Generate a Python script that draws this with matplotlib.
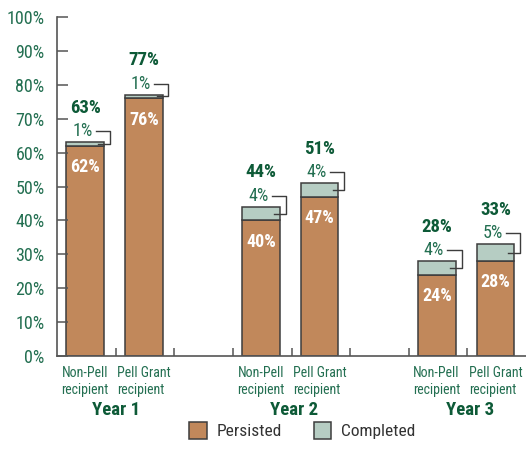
import matplotlib.pyplot as plt

plt.rcParams['font.family'] = ['Roboto Condensed', 'DejaVu Sans']

# data
groups = ["Year 1", "Year 2", "Year 3"]
bar_labels = ["Non-Pell\nrecipient", "Pell Grant\nrecipient"] * 3
persisted = [62, 76, 40, 47, 24, 28]
completed = [1, 1, 4, 4, 4, 5]
totals = [63, 77, 44, 51, 28, 33]

brown = "#C1885B"
sage = "#B6CDC3"
edge = "#3d3d3d"
green = "#236F51"
dark_green = "#0D5A37"

x = [0.48, 1.48, 3.48, 4.48, 6.48, 7.48]
w = 0.64

fig = plt.figure(figsize=(5.26, 4.62), dpi=100)
ax = fig.add_axes([0.1084, 0.2294, 0.8916, 0.7338])

ax.bar(x, persisted, width=w, color=brown, edgecolor=edge, linewidth=1.1, label="Persisted")
ax.bar(x, completed, width=w, bottom=persisted, color=sage, edgecolor=edge, linewidth=1.1, label="Completed")

for xi, p, c, t in zip(x, persisted, completed, totals):
    top = p + c
    ax.text(xi, p - 6.3, f"{p}%", color="white", fontsize=13, fontweight="bold",
            ha="center", va="center")
    ax.text(xi - 0.05, top + 3.3, f"{c}%", color=green, fontsize=13,
            ha="center", va="center")
    ax.text(xi, top + 10.2, f"{t}%", color=dark_green, fontsize=13.5, fontweight="bold",
            ha="center", va="center")
    # bracket from small label to completed segment
    mid = p + c / 2 if c > 1 else top - 0.4
    xr = xi + w / 2 + 0.1
    ax.plot([xi + 0.18, xr, xr, xi + w / 2 - 0.1], [top + 3.3, top + 3.3, mid, mid],
            color=edge, linewidth=1.0, clip_on=False)

ax.set_xlim(0, 8)
ax.set_ylim(0, 100)
ax.set_yticks(range(0, 101, 10))
ax.set_yticklabels([f"{v}%" for v in range(0, 101, 10)])
ax.set_xticks(range(1, 8))
ax.set_xticklabels([])
ax.tick_params(axis="y", direction="in", length=8, width=1.1, color="#555555",
               labelcolor=green, labelsize=13, pad=9)
ax.tick_params(axis="x", direction="in", length=6, width=1.1, color="#555555")
for s in ["top", "right"]:
    ax.spines[s].set_visible(False)
for s in ["left", "bottom"]:
    ax.spines[s].set_color("#555555")
    ax.spines[s].set_linewidth(1.2)

for xi, lab in zip(x, bar_labels):
    ax.text(xi, -3, lab, color=green, fontsize=10, ha="center", va="top",
            multialignment="left", linespacing=1.25)

for xi, g in zip([1.0, 4.05, 7.05], groups):
    ax.text(xi, -13.3, g, color=dark_green, fontsize=13.5, fontweight="bold",
            ha="center", va="top")

fig.legend(loc="lower center", bbox_to_anchor=(0.575, 0.015), ncol=2, frameon=False,
           fontsize=12.5, handlelength=1.0, handleheight=1.1, columnspacing=1.8,
           handletextpad=0.6, labelcolor="#333333")

fig.savefig("out.png", dpi=100)
